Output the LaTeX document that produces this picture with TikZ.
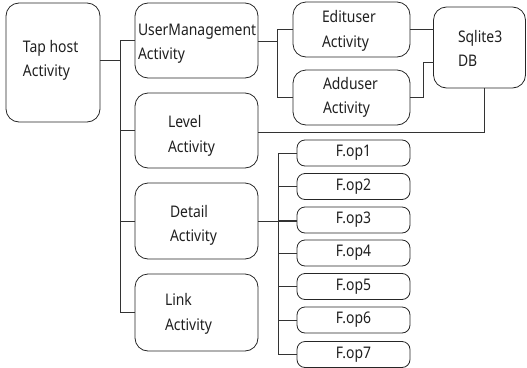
\documentclass[tikz,border=0pt]{standalone}
\usepackage{fontspec}
\setmainfont{Noto Sans}[FakeStretch=0.87]
\begin{document}
\begin{tikzpicture}[x=1pt,y=-1pt,
  every node/.style={inner sep=0pt,outer sep=0pt},
  box/.style={draw=black!85,line width=0.8pt,rectangle,rounded corners=13pt},
  opbox/.style={draw=black!85,line width=0.8pt,rectangle,rounded corners=8pt,
    minimum width=113pt,minimum height=26pt,font=\fontsize{16}{19}\selectfont,text=black!88},
  lbl/.style={anchor=base west,font=\fontsize{16}{19}\selectfont,text=black!88},
  wire/.style={draw=black!80,line width=0.8pt}]
\useasboundingbox (0,0) rectangle (527,367);

% activity boxes
\node[box,minimum width=94pt,minimum height=119pt] (tap) at (53,62.5) {};
\node[box,minimum width=123pt,minimum height=75pt] (um) at (196.5,40.5) {};
\node[box,minimum width=123pt,minimum height=75pt] (level) at (196.5,130.5) {};
\node[box,minimum width=123pt,minimum height=76pt] (detail) at (196.5,221) {};
\node[box,minimum width=123pt,minimum height=77pt] (link) at (196.5,312.5) {};
\node[box,minimum width=117pt,minimum height=55pt] (edit) at (351.5,29.5) {};
\node[box,minimum width=117pt,minimum height=55pt] (add) at (351.5,97.5) {};
\node[box,minimum width=92pt,minimum height=81pt] (db) at (479.5,47.5) {};

% box labels
\node[lbl] (tapA) at (23,52.5) {Tap host};
\node[lbl] (tapB) at (23,76) {Activity};
\node[lbl] (umA) at (138,35) {UserManagement};
\node[lbl] (umB) at (138,59) {Activity};
\node[lbl] (lvA) at (168,127.5) {Level};
\node[lbl] (lvB) at (168,152) {Activity};
\node[lbl] (edA) at (322,22) {Edituser};
\node[lbl] (edB) at (322,47) {Activity};
\node[lbl] (adA) at (323,89) {Adduser};
\node[lbl] (adB) at (323,113) {Activity};
\node[lbl] (dbA) at (458,42) {Sqlite3};
\node[lbl] (dbB) at (458,66) {DB};
\node[lbl] (dtA) at (170,217) {Detail};
\node[lbl] (dtB) at (170,241) {Activity};
\node[lbl] (lkA) at (165,305) {Link};
\node[lbl] (lkB) at (165,330) {Activity};

% function option boxes
\node[opbox] (f1) at (353.5,153) {F.op1};
\node[opbox] (f2) at (353.5,186.5) {F.op2};
\node[opbox] (f3) at (353.5,220) {F.op3};
\node[opbox] (f4) at (353.5,253) {F.op4};
\node[opbox] (f5) at (353.5,286.5) {F.op5};
\node[opbox] (f6) at (353.5,320) {F.op6};
\node[opbox] (f7) at (353.5,354.5) {F.op7};

% junction columns
\coordinate (jA) at (120,0);
\coordinate (jB) at (277,0);
\coordinate (jC) at (423,62);
\coordinate (jD) at (278,0);

% tap host tree
\draw[wire] ([yshift=2.5pt]tap.east) -- ([yshift=2.5pt]tap.east -| jA);
\draw[wire] (um.west) -- (um.west -| jA) -- (link.west -| jA) -- (link.west);
\draw[wire] (level.west) -- (level.west -| jA);
\draw[wire] (detail.west) -- (detail.west -| jA);

% user management branch
\draw[wire] ([yshift=-1pt]um.east) -- ([yshift=-1pt]um.east -| jB);
\draw[wire] (edit.west) -| (jB |- add.west) -- (add.west);

% database links
\draw[wire] (edit.east) -- (edit.east -| db.west);
\draw[wire] (add.east) -| (jC) -- (jC -| db.west);
\draw[wire] ([yshift=-1.5pt]level.east) -| ([xshift=5pt]db.south);

% detail branch
\draw[wire] (detail.east) -- (detail.east -| f3.west);
\draw[wire] (f1.west) -- (f1.west -| jD) -- (f7.west -| jD) -- (f7.west);
\foreach \k in {2,3,4,5,6}
  \draw[wire] (f\k.west) -- (f\k.west -| jD);
\end{tikzpicture}
\end{document}
